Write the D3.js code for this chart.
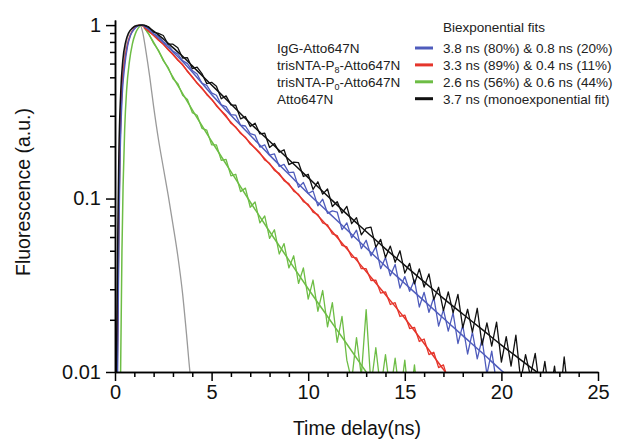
<!DOCTYPE html>
<html>
<head>
<meta charset="utf-8" />
<title>decay</title>
<script src="https://cdn.jsdelivr.net/npm/d3@7"></script>
<style>
  body { margin:0; background:#fff; }
  svg { font-family: "Liberation Sans", Arial, sans-serif; }
</style>
</head>
<body>
<svg width="636" height="443"></svg>
<script>
// axis ticks
var xTicks = [0, 5, 10, 15, 20, 25]
var xMinor = [1,2,3,4,6,7,8,9,11,12,13,14,16,17,18,19,21,22,23,24]
var yTicks = [1, 0.1, 0.01]
var yMinor = [0.02,0.03,0.04,0.05,0.06,0.07,0.08,0.09,0.2,0.3,0.4,0.5,0.6,0.7,0.8,0.9]

// measured decays, one value every 0.25 ns starting at 1.5 ns
var dataStart = 1.5, dataStep = 0.25
var blackData = [0.995,0.977,0.912,0.897,0.871,0.776,0.776,0.741,0.646,0.649,
  0.562,0.572,0.525,0.460,0.468,0.444,0.376,0.391,0.347,0.345,
  0.288,0.297,0.260,0.272,0.236,0.238,0.197,0.208,0.185,0.191,
  0.157,0.162,0.161,0.134,0.138,0.113,0.125,0.106,0.1135,0.0899,
  0.0960,0.0824,0.0902,0.0716,0.0776,0.0617,0.0676,0.0684,0.0525,0.0582,
  0.0457,0.0532,0.0429,0.0500,0.0372,0.0423,0.0322,0.0393,0.0309,0.0368,
  0.0262,0.0308,0.0226,0.0290,0.0219,0.0280,0.0180,0.0230,0.0170,0.0233,
  0.0143,0.0192,0.0141,0.0194,0.0114,0.0160,0.0108,0.0163,0.0089,0.0126,
  0.0095,0.0128,0.0078,0.0115,0.0072,0.0108,0.0065,0.0122,0.0068,0.0062,0.0055]
var blueData = [0.982,0.955,0.891,0.861,0.804,0.766,0.708,0.680,0.624,0.600,
  0.547,0.522,0.462,0.449,0.407,0.394,0.347,0.339,0.305,0.303,
  0.2646,0.262,0.237,0.232,0.198,0.204,0.178,0.181,0.153,0.1575,
  0.141,0.142,0.116,0.1238,0.107,0.1107,0.0907,0.0991,0.0822,0.0849,
  0.0836,0.0662,0.0724,0.0594,0.0657,0.0514,0.0575,0.0467,0.0528,0.0394,
  0.0457,0.0359,0.0417,0.0305,0.0355,0.0292,0.0339,0.0237,0.0288,0.0221,
  0.0269,0.0184,0.0229,0.0172,0.0219,0.0146,0.0186,0.0127,0.0170,0.0119,
  0.0155,0.0097,0.0132,0.0086,0.0075,0.006]
var redData = [0.968,0.920,0.875,0.818,0.778,0.721,0.679,0.627,0.592,0.540,
  0.504,0.462,0.435,0.397,0.374,0.342,0.321,0.301,0.2716,0.2588,
  0.2371,0.2259,0.2061,0.1959,0.1837,0.1667,0.1596,0.1452,0.1396,0.1268,
  0.1219,0.1102,0.1059,0.0959,0.0927,0.0834,0.0807,0.0723,0.0705,0.0625,
  0.0611,0.0537,0.0526,0.0460,0.0455,0.0394,0.0394,0.0337,0.0339,0.0285,
  0.0290,0.0245,0.0251,0.0209,0.0213,0.0178,0.0181,0.0150,0.0155,0.0126,
  0.0130,0.0106,0.0110,0.0089,0.0082]
var greenData = [0.966,0.891,0.785,0.716,0.624,0.571,0.490,0.460,0.394,0.372,
  0.313,0.302,0.254,0.248,0.204,0.204,0.166,0.168,0.135,0.138,
  0.1096,0.1148,0.0891,0.0955,0.0724,0.0794,0.0589,0.0661,0.0479,0.0550,
  0.0398,0.0468,0.0324,0.0398,0.0263,0.0339,0.0224,0.0295,0.0182,0.0251,
  0.0148,0.0209,0.0117,0.0089,0.0158,0.0095,0.0229,0.0083,0.0138,0.0079,
  0.0126,0.0076,0.0120,0.0071,0.0117,0.0063,0.0110,0.006,0.0055]

// fitted curves [time ns, value]
var blackFit = [[0.06,0.008],[0.1,0.02],[0.15,0.07],[0.2,0.18],[0.3,0.42],[0.4,0.62],[0.55,0.8],[0.7,0.9],[0.9,0.96],[1.1,0.99],[1.45,1.0],
  [2,0.923],[2.5,0.832],[3,0.741],[3.5,0.661],[4,0.582],[5,0.452],[6,0.351],[7,0.272],[8,0.214],[9,0.168],[10,0.132],[11,0.1035],
  [12,0.0813],[13,0.0646],[14,0.0513],[15,0.0412],[16,0.0331],[17,0.0266],[18,0.0216],[19,0.0176],[20,0.0143],[21,0.01175],[22,0.00966],[22.5,0.0087]]
var blueFit = [[0.12,0.008],[0.16,0.02],[0.2,0.06],[0.25,0.15],[0.35,0.35],[0.5,0.58],[0.65,0.76],[0.8,0.87],[1.0,0.95],[1.2,0.99],[1.35,1.0],
  [1.7,0.955],[2,0.891],[2.5,0.794],[3,0.700],[3.5,0.617],[4,0.537],[5,0.398],[6,0.302],[7,0.232],[8,0.178],[9,0.138],[10,0.107],
  [11,0.0841],[12,0.0661],[13,0.0519],[14,0.0407],[15,0.0324],[16,0.0257],[17,0.0204],[18,0.0162],[19,0.0129],[20,0.0102],[20.5,0.0091]]
var redFit = [[0.1,0.008],[0.15,0.025],[0.2,0.08],[0.25,0.18],[0.35,0.4],[0.5,0.62],[0.65,0.78],[0.8,0.88],[1.0,0.96],[1.15,0.99],[1.3,1.0],
  [1.7,0.933],[2,0.871],[2.5,0.776],[3,0.676],[3.5,0.589],[4,0.501],[5,0.372],[6,0.275],[7,0.209],[8,0.158],[9,0.120],[10,0.0912],
  [11,0.0692],[12,0.0513],[13,0.0380],[14,0.0279],[15,0.0204],[16,0.0146],[17,0.01035],[17.5,0.0087]]
var greenFit = [[0.28,0.008],[0.32,0.02],[0.36,0.05],[0.42,0.12],[0.5,0.25],[0.6,0.42],[0.75,0.62],[0.9,0.78],[1.05,0.89],[1.2,0.96],[1.4,1.0],
  [1.7,0.902],[2,0.794],[2.5,0.631],[3,0.501],[3.5,0.403],[4,0.324],[5,0.214],[6,0.143],[7,0.0955],[8,0.0646],[9,0.0442],[10,0.0302],
  [11,0.0209],[12,0.0145],[13,0.0100],[13.5,0.0083]]
// instrument response (grey)
var irf = [[0.12,0.008],[0.17,0.03],[0.22,0.1],[0.3,0.3],[0.45,0.6],[0.65,0.85],[0.9,0.96],[1.1,0.995],[1.3,1.0],[1.45,0.891],[1.6,0.708],
  [1.8,0.501],[2.0,0.339],[2.25,0.219],[2.5,0.151],[2.75,0.105],[3.0,0.0708],[3.25,0.0468],[3.5,0.0282],[3.7,0.0166],[3.9,0.00955],[4.0,0.008]]

var legendNames = ["IgG-Atto647N", "trisNTA-P_8-Atto647N", "trisNTA-P_0-Atto647N", "Atto647N"]
var legendFits = ["3.8 ns (80%) & 0.8 ns (20%)", "3.3 ns (89%) & 0.4 ns (11%)", "2.6 ns (56%) & 0.6 ns (44%)", "3.7 ns (monoexponential fit)"]
var colors = ["#4f5cbc", "#e5352b", "#6dbd45", "#111111"]

var svg = d3.select("svg")
var x = d3.scaleLinear().domain([0, 25]).range([115, 598])
var y = d3.scaleLog().domain([0.01, 1.07]).range([372, 20])

svg.append("clipPath").attr("id", "plot")
  .append("rect").attr("x", 115).attr("y", 15).attr("width", 483).attr("height", 357)

var line = d3.line().x(d => x(d[0])).y(d => y(d[1]))
var smooth = d3.line().x(d => x(d[0])).y(d => y(d[1])).curve(d3.curveMonotoneX)
var toPts = arr => arr.map((v, i) => [dataStart + i * dataStep, v])

var plot = svg.append("g").attr("clip-path", "url(#plot)")

plot.append("path").attr("d", smooth(irf)).attr("fill", "none").attr("stroke", "#9a9a9a").attr("stroke-width", 1.3)

var series = [
  {data: greenData, fit: greenFit, c: colors[2]},
  {data: redData, fit: redFit, c: colors[1]},
  {data: blueData, fit: blueFit, c: colors[0]},
  {data: blackData, fit: blackFit, c: colors[3]}
]
series.forEach(function(s){
  plot.append("path").attr("d", line(toPts(s.data))).attr("fill", "none")
    .attr("stroke", s.c).attr("stroke-width", 1.3).attr("stroke-linejoin", "round")
  plot.append("path").attr("d", smooth(s.fit)).attr("fill", "none")
    .attr("stroke", s.c).attr("stroke-width", 1.5)
})

// axes
function styleAxis(g){
  g.selectAll("path,line").attr("stroke", "#000").attr("stroke-width", 1.5)
  g.selectAll("text").attr("font-size", "20px").attr("fill", "#111")
}
svg.append("g").attr("transform", "translate(0,372)")
  .call(d3.axisBottom(x).tickValues(xMinor).tickSize(5).tickSizeOuter(0).tickFormat(""))
  .call(styleAxis)
svg.append("g").attr("transform", "translate(0,372)")
  .call(d3.axisBottom(x).tickValues(xTicks).tickSize(9).tickSizeOuter(0).tickPadding(4))
  .call(styleAxis)
svg.append("g").attr("transform", "translate(115,0)")
  .call(d3.axisLeft(y).tickValues(yMinor).tickSize(5).tickSizeOuter(0).tickFormat(""))
  .call(styleAxis)
svg.append("g").attr("transform", "translate(115,0)")
  .call(d3.axisLeft(y).tickValues(yTicks).tickSize(9).tickSizeOuter(0).tickPadding(5).tickFormat(d => String(d)))
  .call(styleAxis)

svg.append("text").attr("x", 357).attr("y", 435).attr("text-anchor", "middle")
  .attr("font-size", "19.5px").attr("fill", "#111").text("Time delay(ns)")
svg.append("text").attr("transform", "translate(30,192) rotate(-90)").attr("text-anchor", "middle")
  .attr("font-size", "19.5px").attr("fill", "#111").text("Fluorescence (a.u.)")

// legend
var lg = svg.append("g").attr("font-size", "13.5px").attr("fill", "#222")
lg.append("text").attr("x", 443).attr("y", 32).text("Biexponential fits")
legendNames.forEach(function(name, i){
  var yy = 53 + i * 16.9
  var t = lg.append("text").attr("x", 277).attr("y", yy)
  var parts = name.split("_")
  if (parts.length > 1) {
    t.append("tspan").text(parts[0])
    t.append("tspan").attr("font-size", "9px").attr("dy", 3).text(parts[1].charAt(0))
    t.append("tspan").attr("dy", -3).text(parts[1].slice(1))
  } else {
    t.text(name)
  }
  lg.append("line").attr("x1", 415).attr("x2", 433).attr("y1", yy - 5).attr("y2", yy - 5)
    .attr("stroke", colors[i]).attr("stroke-width", 3)
  lg.append("text").attr("x", 443).attr("y", yy).text(legendFits[i])
})
</script>
</body>
</html>
